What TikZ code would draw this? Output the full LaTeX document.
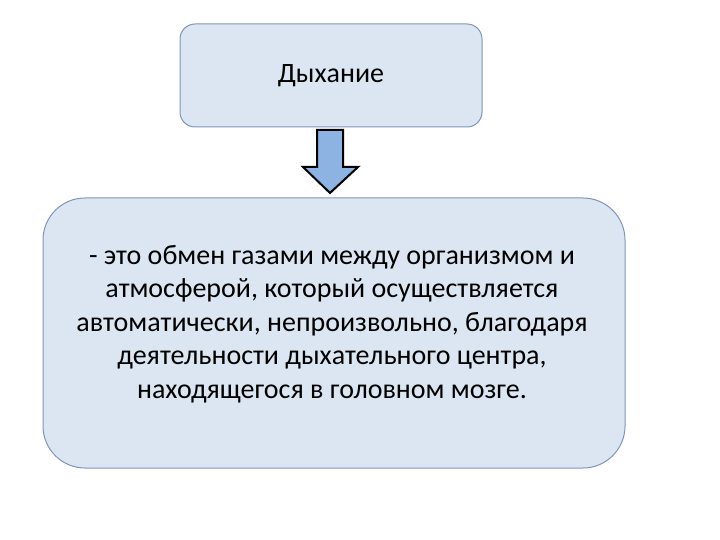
\documentclass[tikz,border=0pt]{standalone}
\usepackage{fontspec}
\setmainfont{Carlito}
\definecolor{boxfill}{HTML}{DCE6F2}
\definecolor{boxline}{HTML}{7F96B8}
\definecolor{arrowfill}{HTML}{8DB3E2}
\begin{document}
\begin{tikzpicture}[x=1pt,y=-1pt,
  box/.style={draw=boxline,fill=boxfill,line width=1pt},
  txt/.style={align=center,inner sep=0pt,font=\fontsize{28}{33.5}\selectfont}]
\useasboundingbox (0,0) rectangle (720,540);
\node[box,rounded corners=15pt,minimum width=302pt,minimum height=103pt] (title) at (331,75.5) {};
\node[txt] (titletext) at (title.center) {Дыхание};
\node[box,rounded corners=42pt,minimum width=582pt,minimum height=270pt] (def) at (334,333) {};
\node[txt] (deftext) at (332,324)
  {- это обмен газами между организмом и\\
   атмосферой, который осуществляется\\
   автоматически, непроизвольно, благодаря\\
   деятельности дыхательного центра,\\
   находящегося в головном мозге.};
% block arrow
\draw[line width=2pt,fill=arrowfill,line join=miter]
  (317,130)--(343,130)--(343,167)--(358,167)--(330,193)--(303,167)--(317,167)--cycle;
\end{tikzpicture}
\end{document}
